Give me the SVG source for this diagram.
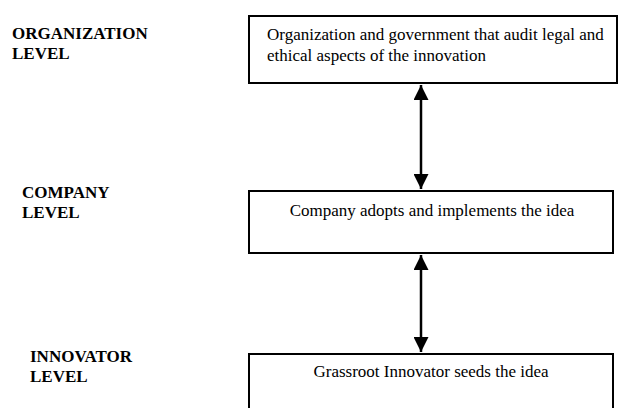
<svg xmlns="http://www.w3.org/2000/svg" width="619" height="408" viewBox="0 0 619 408">
  <style>
    .box { fill: #ffffff; stroke: #000000; stroke-width: 2; }
    .txt { font-family: "Liberation Serif", "Times New Roman", serif; font-size: 17px; fill: #000000; }
    .lvl { font-family: "Liberation Serif", "Times New Roman", serif; font-size: 17px; font-weight: bold; fill: #000000; }
    .link { stroke: #000000; stroke-width: 2.5; fill: none; marker-start: url(#head); marker-end: url(#head); }
  </style>
  <defs>
    <marker id="head" viewBox="0 0 10 10" refX="10" refY="5" markerWidth="6" markerHeight="6" markerUnits="strokeWidth" orient="auto-start-reverse">
      <path d="M0,0 L10,5 L0,10 Z" fill="#000000"/>
    </marker>
  </defs>
  <rect width="619" height="408" fill="#ffffff"/>

  <!-- level captions -->
  <g id="label-organization">
    <text class="lvl" x="12" y="39">ORGANIZATION</text>
    <text class="lvl" x="12" y="59">LEVEL</text>
  </g>
  <g id="label-company">
    <text class="lvl" x="22" y="198">COMPANY</text>
    <text class="lvl" x="22" y="218">LEVEL</text>
  </g>
  <g id="label-innovator">
    <text class="lvl" x="30" y="362">INNOVATOR</text>
    <text class="lvl" x="30" y="382">LEVEL</text>
  </g>

  <!-- boxes -->
  <g id="node-organization">
    <rect class="box" x="249" y="16" width="368" height="67"/>
    <text class="txt" x="267" y="40">Organization and government that audit legal and</text>
    <text class="txt" x="267" y="61">ethical aspects of the innovation</text>
  </g>
  <g id="node-company">
    <rect class="box" x="249" y="191" width="364" height="62"/>
    <text class="txt" x="432" y="216" text-anchor="middle">Company adopts and implements the idea</text>
  </g>
  <g id="node-innovator">
    <rect class="box" x="249" y="354" width="364" height="70"/>
    <text class="txt" x="431" y="377" text-anchor="middle">Grassroot Innovator seeds the idea</text>
  </g>

  <!-- two-way connectors -->
  <g id="connectors">
    <line class="link" x1="421" y1="85" x2="421" y2="189"/>
    <line class="link" x1="421" y1="255" x2="421" y2="352"/>
  </g>
</svg>
